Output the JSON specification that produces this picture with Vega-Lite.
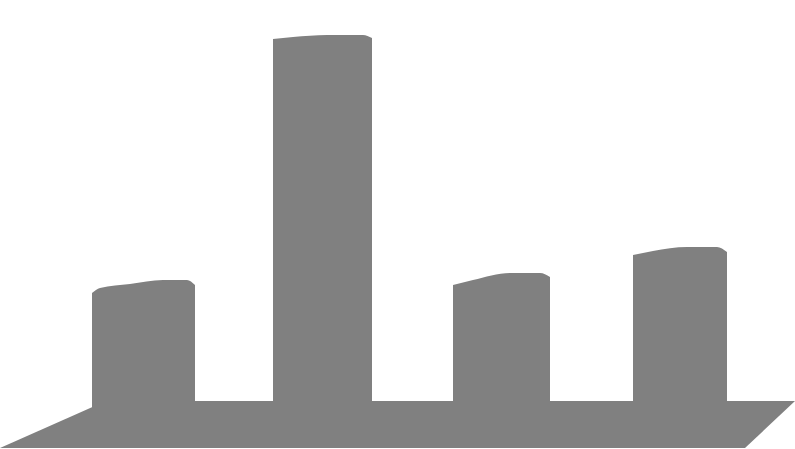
{
  "$schema": "https://vega.github.io/schema/vega-lite/v6.json",
  "width": 795,
  "height": 449,
  "autosize": {"type": "fit", "contains": "padding"},
  "padding": 0,
  "background": "white",
  "config": {"view": {"stroke": null}},
  "datasets": {
    "floor": [
      {"x": 0, "top": -47, "bottom": -47},
      {"x": 106, "top": 0, "bottom": -47},
      {"x": 745, "top": 0, "bottom": -47},
      {"x": 795, "top": 0, "bottom": 0}
    ],
    "bars": [
      {"bar": "A", "x": 92, "y": 108},
      {"bar": "A", "x": 100, "y": 113},
      {"bar": "A", "x": 130, "y": 117},
      {"bar": "A", "x": 163, "y": 121},
      {"bar": "A", "x": 187, "y": 121},
      {"bar": "A", "x": 195, "y": 116},
      {"bar": "B", "x": 273, "y": 362},
      {"bar": "B", "x": 293, "y": 364},
      {"bar": "B", "x": 327, "y": 366},
      {"bar": "B", "x": 363, "y": 366},
      {"bar": "B", "x": 372, "y": 363},
      {"bar": "C", "x": 453, "y": 116},
      {"bar": "C", "x": 473, "y": 121},
      {"bar": "C", "x": 510, "y": 128},
      {"bar": "C", "x": 540, "y": 128},
      {"bar": "C", "x": 550, "y": 124},
      {"bar": "D", "x": 633, "y": 146},
      {"bar": "D", "x": 653, "y": 150},
      {"bar": "D", "x": 687, "y": 154},
      {"bar": "D", "x": 717, "y": 154},
      {"bar": "D", "x": 727, "y": 149}
    ]
  },
  "layer": [
    {
      "data": {"name": "floor"},
      "mark": {"type": "area", "color": "#808080"},
      "encoding": {
        "x": {"field": "x", "type": "quantitative", "scale": {"domain": [0, 795], "nice": false, "zero": false}, "axis": null},
        "y": {"field": "top", "type": "quantitative", "scale": {"domain": [-48, 401], "nice": false, "zero": false}, "axis": null},
        "y2": {"field": "bottom"}
      }
    },
    {
      "data": {"name": "bars"},
      "mark": {"type": "area", "color": "#808080", "interpolate": "monotone"},
      "encoding": {
        "x": {"field": "x", "type": "quantitative", "axis": null},
        "y": {"field": "y", "type": "quantitative", "axis": null},
        "y2": {"datum": -8},
        "detail": {"field": "bar", "type": "nominal"}
      }
    }
  ]
}
